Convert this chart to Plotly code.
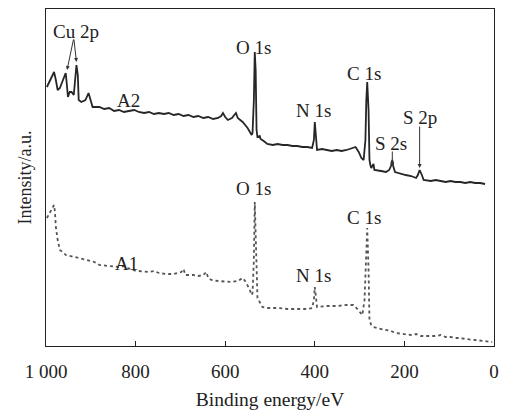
import plotly.graph_objects as go

# A2 spectrum (solid line): binding energy (eV) and intensity (a.u.)
a2_energy = [998, 991, 982, 978, 974, 969, 963, 956, 954, 951, 947, 943, 938, 934, 932, 929, 927,
             921, 912, 905, 901, 896, 881, 870, 859, 848, 837, 826, 815, 803, 793, 781, 770, 759, 748,
             737, 726, 715, 704, 693, 682, 671, 660, 649, 638, 627, 616, 609, 605, 600, 594, 585, 578,
             576, 572, 561, 550, 541, 539, 536, 534, 532, 530, 528, 523, 521, 514, 506, 494, 483, 472,
             461, 450, 439, 428, 417, 406, 402, 400, 397, 395, 384, 373, 362, 351, 340, 329, 316, 309,
             302, 296, 291, 287, 285, 283, 280, 278, 276, 274, 269, 267, 252, 241, 234, 230, 227, 225,
             221, 208, 197, 185, 174, 170, 166, 161, 157, 141, 130, 119, 108, 97, 86, 75, 64, 53, 42,
             31, 20, 9, 2]
a2_intensity = [259, 266, 274, 266, 256, 258, 266, 273, 264, 249, 254, 254, 251, 276, 281, 271, 246,
                244, 246, 253, 246, 239, 239, 237, 238, 235, 236, 234, 235, 236, 234, 233, 234, 232, 233,
                232, 233, 231, 232, 230, 231, 229, 230, 228, 229, 227, 228, 230, 233, 229, 226, 228, 232,
                233, 228, 224, 218, 211, 213, 246, 294, 276, 216, 209, 210, 207, 205, 202, 201, 202, 201,
                201, 200, 200, 199, 199, 198, 206, 224, 208, 196, 197, 196, 195, 196, 195, 196, 198, 199,
                194, 188, 186, 206, 246, 264, 236, 186, 181, 178, 182, 176, 175, 174, 176, 180, 186, 180,
                174, 172, 171, 170, 168, 171, 176, 171, 166, 165, 166, 165, 164, 165, 164, 164, 163, 164,
                163, 163, 162]

# A1 spectrum (dotted line)
a1_energy = [998, 993, 987, 982, 980, 978, 974, 969, 960, 956, 936, 910, 892, 881, 859, 837, 826,
             808, 793, 770, 759, 748, 733, 715, 698, 693, 689, 671, 660, 649, 642, 638, 631, 616, 587,
             572, 561, 554, 545, 541, 539, 536, 534, 532, 530, 528, 523, 517, 506, 483, 461, 439, 417,
             406, 402, 400, 397, 395, 373, 351, 329, 314, 307, 300, 294, 289, 285, 283, 280, 278, 274,
             269, 252, 230, 219, 196, 185, 174, 163, 152, 141, 130, 119, 108, 97, 86, 75, 64, 42, 20, 4]
a1_intensity = [128, 132, 136, 141, 134, 119, 106, 96, 93, 91, 89, 86, 84, 81, 80, 79, 80,
                76, 75, 74, 75, 73, 72, 72, 74, 77, 71, 71, 70, 71, 74, 68, 66, 65, 64,
                65, 68, 64, 56, 51, 53, 86, 144, 106, 61, 48, 44, 39, 38, 38, 37, 37, 37,
                38, 46, 59, 46, 39, 40, 40, 41, 41, 38, 34, 31, 46, 86, 118, 76, 26, 21,
                19, 17, 15, 13, 12, 11, 12, 10, 10, 10, 10, 11, 9, 9, 8, 8, 7, 6, 5, 4]

energy_ticks = [1000, 800, 600, 400, 200, 0]
energy_tick_labels = ["1 000", "800", "600", "400", "200", "0"]

# Peak labels: (text, energy, intensity)
labels = [
    ("Cu 2p", 934, 315), ("A2", 815, 246), ("O 1s", 536, 299), ("N 1s", 404, 236),
    ("C 1s", 291, 273), ("S 2s", 229, 203), ("S 2p", 166, 229),
    ("O 1s", 536, 158), ("N 1s", 404, 71), ("C 1s", 291, 129), ("A1", 821, 83),
]
# Arrows: (head energy, head intensity, tail energy, tail intensity)
arrows = [
    (953, 276, 938, 308), (932, 284, 938, 308),
    (227, 180, 227, 196), (166, 178, 166, 221),
]

FONT = "Liberation Serif, Times New Roman, serif"

fig = go.Figure()
fig.add_trace(go.Scatter(x=a2_energy, y=a2_intensity, mode="lines",
                         line=dict(color="#262626", width=1.8), showlegend=False))
fig.add_trace(go.Scatter(x=a1_energy, y=a1_intensity, mode="lines",
                         line=dict(color="#555555", width=1.8, dash="dot"), showlegend=False))

for text, x, y in labels:
    fig.add_annotation(x=x, y=y, text=text, showarrow=False,
                       font=dict(family=FONT, size=19, color="#222222"))
for hx, hy, tx, ty in arrows:
    fig.add_annotation(x=hx, y=hy, ax=tx, ay=ty, axref="x", ayref="y", text="",
                       showarrow=True, arrowhead=2, arrowsize=0.8, arrowwidth=1,
                       arrowcolor="#333333")

fig.update_layout(
    width=505, height=414,
    margin=dict(l=46, r=6, t=9, b=68),
    paper_bgcolor="white", plot_bgcolor="white",
    font=dict(family=FONT, size=18, color="#222222"),
)
fig.update_xaxes(range=[1000, 0], tickvals=energy_ticks, ticktext=energy_tick_labels,
                 ticks="inside", ticklen=5, tickcolor="#222222", ticklabelstandoff=8,
                 showline=True, linecolor="#222222", linewidth=1, mirror=True,
                 showgrid=False, zeroline=False,
                 tickfont=dict(family=FONT, size=19),
                 title=dict(text="Binding energy/eV", font=dict(family=FONT, size=19.5), standoff=11))
fig.update_yaxes(range=[0, 337], showticklabels=False, ticks="",
                 showline=True, linecolor="#222222", linewidth=1, mirror=True,
                 showgrid=False, zeroline=False,
                 title=dict(text="Intensity/a.u.", font=dict(family=FONT, size=18), standoff=8))

fig.write_html(
    "out.html",
    config={"displayModeBar": False},
    post_script="document.body.style.margin='0';document.documentElement.style.overflow='hidden';",
)
